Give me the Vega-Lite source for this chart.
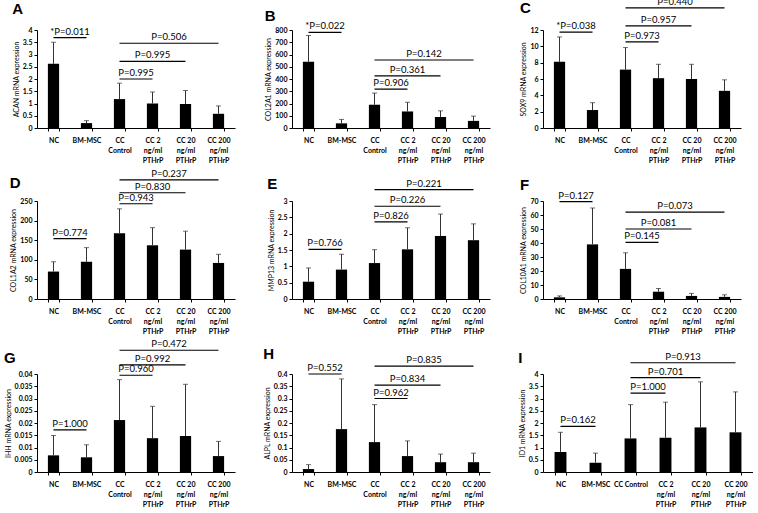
{
  "$schema": "https://vega.github.io/schema/vega-lite/v6.json",
  "background": "white",
  "padding": {"left": 4, "top": -4, "right": 0, "bottom": 0},
  "config": {
    "view": {"stroke": null},
    "font": "Lato",
    "axis": {"grid": false, "domainColor": "#000", "tickColor": "#000", "labelColor": "#000", "titleColor": "#000", "labelFontSize": 7, "labelFontWeight": "bold", "titleFontSize": 7, "titleFontWeight": "normal", "tickSize": 3, "labelPadding": 2, "titlePadding": 3, "labelFont": "Lato", "titleFont": "Lato", "domainWidth": 1},
    "axisX": {"labelPadding": 5, "labelLineHeight": 10, "labelAngle": 0, "labelOverlap": false, "tickBand": "extent"},
    "title": {"fontSize": 15, "fontWeight": "bold", "anchor": "start", "frame": "bounds", "font": "Liberation Sans", "color": "#000"},
    "text": {"font": "Lato", "fontSize": 9.5, "color": "#000"}
  },
  "datasets": {
    "bars": [
      {"panel": "A", "group": "NC", "value": 2.62, "upper": 3.5},
      {"panel": "A", "group": "BM-MSC", "value": 0.2, "upper": 0.3},
      {"panel": "A", "group": "CC Control", "value": 1.18, "upper": 1.83},
      {"panel": "A", "group": "CC 2 ng/ml PTHrP", "value": 1.0, "upper": 1.47},
      {"panel": "A", "group": "CC 20 ng/ml PTHrP", "value": 0.98, "upper": 1.53},
      {"panel": "A", "group": "CC 200 ng/ml PTHrP", "value": 0.58, "upper": 0.9},
      {"panel": "B", "group": "NC", "value": 540, "upper": 755},
      {"panel": "B", "group": "BM-MSC", "value": 38, "upper": 70},
      {"panel": "B", "group": "CC Control", "value": 190, "upper": 285},
      {"panel": "B", "group": "CC 2 ng/ml PTHrP", "value": 135, "upper": 210},
      {"panel": "B", "group": "CC 20 ng/ml PTHrP", "value": 90, "upper": 140},
      {"panel": "B", "group": "CC 200 ng/ml PTHrP", "value": 58, "upper": 97},
      {"panel": "C", "group": "NC", "value": 8.1, "upper": 11.15},
      {"panel": "C", "group": "BM-MSC", "value": 2.2, "upper": 3.1},
      {"panel": "C", "group": "CC Control", "value": 7.15, "upper": 9.85},
      {"panel": "C", "group": "CC 2 ng/ml PTHrP", "value": 6.1, "upper": 7.8},
      {"panel": "C", "group": "CC 20 ng/ml PTHrP", "value": 6.0, "upper": 7.8},
      {"panel": "C", "group": "CC 200 ng/ml PTHrP", "value": 4.55, "upper": 5.9},
      {"panel": "D", "group": "NC", "value": 70, "upper": 95},
      {"panel": "D", "group": "BM-MSC", "value": 95, "upper": 131},
      {"panel": "D", "group": "CC Control", "value": 168, "upper": 230},
      {"panel": "D", "group": "CC 2 ng/ml PTHrP", "value": 137, "upper": 182},
      {"panel": "D", "group": "CC 20 ng/ml PTHrP", "value": 126, "upper": 173},
      {"panel": "D", "group": "CC 200 ng/ml PTHrP", "value": 92, "upper": 114},
      {"panel": "E", "group": "NC", "value": 0.53, "upper": 0.95},
      {"panel": "E", "group": "BM-MSC", "value": 0.9, "upper": 1.37},
      {"panel": "E", "group": "CC Control", "value": 1.1, "upper": 1.51},
      {"panel": "E", "group": "CC 2 ng/ml PTHrP", "value": 1.52, "upper": 2.18},
      {"panel": "E", "group": "CC 20 ng/ml PTHrP", "value": 1.93, "upper": 2.6},
      {"panel": "E", "group": "CC 200 ng/ml PTHrP", "value": 1.8, "upper": 2.3},
      {"panel": "F", "group": "NC", "value": 1.2, "upper": 2.2},
      {"panel": "F", "group": "BM-MSC", "value": 39, "upper": 65},
      {"panel": "F", "group": "CC Control", "value": 21.5, "upper": 33},
      {"panel": "F", "group": "CC 2 ng/ml PTHrP", "value": 5.2, "upper": 7.5},
      {"panel": "F", "group": "CC 20 ng/ml PTHrP", "value": 2.2, "upper": 4.0},
      {"panel": "F", "group": "CC 200 ng/ml PTHrP", "value": 1.5, "upper": 3.0},
      {"panel": "G", "group": "NC", "value": 0.0068, "upper": 0.0149},
      {"panel": "G", "group": "BM-MSC", "value": 0.006, "upper": 0.0111},
      {"panel": "G", "group": "CC Control", "value": 0.0212, "upper": 0.0377},
      {"panel": "G", "group": "CC 2 ng/ml PTHrP", "value": 0.0138, "upper": 0.0268},
      {"panel": "G", "group": "CC 20 ng/ml PTHrP", "value": 0.0147, "upper": 0.0358},
      {"panel": "G", "group": "CC 200 ng/ml PTHrP", "value": 0.0065, "upper": 0.0125},
      {"panel": "H", "group": "NC", "value": 0.012, "upper": 0.03},
      {"panel": "H", "group": "BM-MSC", "value": 0.175, "upper": 0.38},
      {"panel": "H", "group": "CC Control", "value": 0.122, "upper": 0.275},
      {"panel": "H", "group": "CC 2 ng/ml PTHrP", "value": 0.065, "upper": 0.127},
      {"panel": "H", "group": "CC 20 ng/ml PTHrP", "value": 0.04, "upper": 0.073},
      {"panel": "H", "group": "CC 200 ng/ml PTHrP", "value": 0.04, "upper": 0.077},
      {"panel": "I", "group": "NC", "value": 0.82, "upper": 1.62},
      {"panel": "I", "group": "BM-MSC", "value": 0.38, "upper": 0.77},
      {"panel": "I", "group": "CC Control", "value": 1.37, "upper": 2.75},
      {"panel": "I", "group": "CC 2 ng/ml PTHrP", "value": 1.4, "upper": 2.85},
      {"panel": "I", "group": "CC 20 ng/ml PTHrP", "value": 1.82, "upper": 3.68},
      {"panel": "I", "group": "CC 200 ng/ml PTHrP", "value": 1.62, "upper": 3.27}
    ],
    "brackets": [
      {"panel": "A", "id": "A1", "label": "*P=0.011", "y": 3.69, "pos": 0}, {"panel": "A", "id": "A1", "label": "*P=0.011", "y": 3.69, "pos": 1},
      {"panel": "A", "id": "A2", "label": "P=0.506", "y": 3.46, "pos": 2}, {"panel": "A", "id": "A2", "label": "P=0.506", "y": 3.46, "pos": 5},
      {"panel": "A", "id": "A3", "label": "P=0.995", "y": 2.72, "pos": 2}, {"panel": "A", "id": "A3", "label": "P=0.995", "y": 2.72, "pos": 4},
      {"panel": "A", "id": "A4", "label": "P=0.995", "y": 2.0, "pos": 2}, {"panel": "A", "id": "A4", "label": "P=0.995", "y": 2.0, "pos": 3},
      {"panel": "B", "id": "B1", "label": "*P=0.022", "y": 780, "pos": 0}, {"panel": "B", "id": "B1", "label": "*P=0.022", "y": 780, "pos": 1},
      {"panel": "B", "id": "B2", "label": "P=0.142", "y": 555, "pos": 2}, {"panel": "B", "id": "B2", "label": "P=0.142", "y": 555, "pos": 5},
      {"panel": "B", "id": "B3", "label": "P=0.361", "y": 425, "pos": 2}, {"panel": "B", "id": "B3", "label": "P=0.361", "y": 425, "pos": 4},
      {"panel": "B", "id": "B4", "label": "P=0.906", "y": 318, "pos": 2}, {"panel": "B", "id": "B4", "label": "P=0.906", "y": 318, "pos": 3},
      {"panel": "C", "id": "C1", "label": "*P=0.038", "y": 11.75, "pos": 0}, {"panel": "C", "id": "C1", "label": "*P=0.038", "y": 11.75, "pos": 1},
      {"panel": "C", "id": "C2", "label": "P=0.440", "y": 14.7, "pos": 2}, {"panel": "C", "id": "C2", "label": "P=0.440", "y": 14.7, "pos": 5},
      {"panel": "C", "id": "C3", "label": "P=0.957", "y": 12.5, "pos": 2}, {"panel": "C", "id": "C3", "label": "P=0.957", "y": 12.5, "pos": 4},
      {"panel": "C", "id": "C4", "label": "P=0.973", "y": 10.55, "pos": 2}, {"panel": "C", "id": "C4", "label": "P=0.973", "y": 10.55, "pos": 3},
      {"panel": "D", "id": "D1", "label": "P=0.774", "y": 154, "pos": 0}, {"panel": "D", "id": "D1", "label": "P=0.774", "y": 154, "pos": 1},
      {"panel": "D", "id": "D2", "label": "P=0.237", "y": 304, "pos": 2}, {"panel": "D", "id": "D2", "label": "P=0.237", "y": 304, "pos": 5},
      {"panel": "D", "id": "D3", "label": "P=0.830", "y": 271, "pos": 2}, {"panel": "D", "id": "D3", "label": "P=0.830", "y": 271, "pos": 4},
      {"panel": "D", "id": "D4", "label": "P=0.943", "y": 243, "pos": 2}, {"panel": "D", "id": "D4", "label": "P=0.943", "y": 243, "pos": 3},
      {"panel": "E", "id": "E1", "label": "P=0.766", "y": 1.52, "pos": 0}, {"panel": "E", "id": "E1", "label": "P=0.766", "y": 1.52, "pos": 1},
      {"panel": "E", "id": "E2", "label": "P=0.221", "y": 3.35, "pos": 2}, {"panel": "E", "id": "E2", "label": "P=0.221", "y": 3.35, "pos": 5},
      {"panel": "E", "id": "E3", "label": "P=0.226", "y": 2.84, "pos": 2}, {"panel": "E", "id": "E3", "label": "P=0.226", "y": 2.84, "pos": 4},
      {"panel": "E", "id": "E4", "label": "P=0.826", "y": 2.36, "pos": 2}, {"panel": "E", "id": "E4", "label": "P=0.826", "y": 2.36, "pos": 3},
      {"panel": "F", "id": "F1", "label": "P=0.127", "y": 69.5, "pos": 0}, {"panel": "F", "id": "F1", "label": "P=0.127", "y": 69.5, "pos": 1},
      {"panel": "F", "id": "F2", "label": "P=0.073", "y": 62, "pos": 2}, {"panel": "F", "id": "F2", "label": "P=0.073", "y": 62, "pos": 5},
      {"panel": "F", "id": "F3", "label": "P=0.081", "y": 50, "pos": 2}, {"panel": "F", "id": "F3", "label": "P=0.081", "y": 50, "pos": 4},
      {"panel": "F", "id": "F4", "label": "P=0.145", "y": 40.5, "pos": 2}, {"panel": "F", "id": "F4", "label": "P=0.145", "y": 40.5, "pos": 3},
      {"panel": "G", "id": "G1", "label": "P=1.000", "y": 0.0172, "pos": 0}, {"panel": "G", "id": "G1", "label": "P=1.000", "y": 0.0172, "pos": 1},
      {"panel": "G", "id": "G2", "label": "P=0.472", "y": 0.0497, "pos": 2}, {"panel": "G", "id": "G2", "label": "P=0.472", "y": 0.0497, "pos": 5},
      {"panel": "G", "id": "G3", "label": "P=0.992", "y": 0.0437, "pos": 2}, {"panel": "G", "id": "G3", "label": "P=0.992", "y": 0.0437, "pos": 4},
      {"panel": "G", "id": "G4", "label": "P=0.960", "y": 0.0395, "pos": 2}, {"panel": "G", "id": "G4", "label": "P=0.960", "y": 0.0395, "pos": 3},
      {"panel": "H", "id": "H1", "label": "P=0.552", "y": 0.4, "pos": 0}, {"panel": "H", "id": "H1", "label": "P=0.552", "y": 0.4, "pos": 1},
      {"panel": "H", "id": "H2", "label": "P=0.835", "y": 0.432, "pos": 2}, {"panel": "H", "id": "H2", "label": "P=0.835", "y": 0.432, "pos": 5},
      {"panel": "H", "id": "H3", "label": "P=0.834", "y": 0.355, "pos": 2}, {"panel": "H", "id": "H3", "label": "P=0.834", "y": 0.355, "pos": 4},
      {"panel": "H", "id": "H4", "label": "P=0.962", "y": 0.3, "pos": 2}, {"panel": "H", "id": "H4", "label": "P=0.962", "y": 0.3, "pos": 3},
      {"panel": "I", "id": "I1", "label": "P=0.162", "y": 1.86, "pos": 0}, {"panel": "I", "id": "I1", "label": "P=0.162", "y": 1.86, "pos": 1},
      {"panel": "I", "id": "I2", "label": "P=0.913", "y": 4.46, "pos": 2}, {"panel": "I", "id": "I2", "label": "P=0.913", "y": 4.46, "pos": 5},
      {"panel": "I", "id": "I3", "label": "P=0.701", "y": 3.85, "pos": 2}, {"panel": "I", "id": "I3", "label": "P=0.701", "y": 3.85, "pos": 4},
      {"panel": "I", "id": "I4", "label": "P=1.000", "y": 3.22, "pos": 2}, {"panel": "I", "id": "I4", "label": "P=1.000", "y": 3.22, "pos": 3}
    ]
  },
  "columns": 3,
  "spacing": {"row": 5, "column": 28},
  "concat": [
    {
      "title": {"text": "A", "offset": 9},
      "width": 198, "height": 98,
      "resolve": {"scale": {"x": "independent"}},
      "layer": [
        {"data": {"name": "bars"}, "transform": [{"filter": "datum.panel === 'A'"}],
         "encoding": {"x": {"field": "group", "type": "nominal", "title": null, "scale": {"domain": ["NC", "BM-MSC", "CC Control", "CC 2 ng/ml PTHrP", "CC 20 ng/ml PTHrP", "CC 200 ng/ml PTHrP"], "paddingInner": 0.66, "paddingOuter": 0.33}, "axis": {"labelExpr": "indexof(datum.label, 'ng/ml') > 0 ? [replace(datum.label, ' ng/ml PTHrP', ''), 'ng/ml', 'PTHrP'] : datum.label == 'CC Control' ? ['CC', 'Control'] : datum.label"}}},
         "layer": [
           {"mark": {"type": "bar", "color": "#000"}, "encoding": {"y": {"field": "value", "type": "quantitative", "scale": {"domain": [0, 4], "nice": false}, "axis": {"title": "ACAN mRNA expression", "values": [0, 0.5, 1, 1.5, 2, 2.5, 3, 3.5, 4], "format": "~r"}}}},
           {"mark": {"type": "rule", "color": "#333", "strokeWidth": 1}, "encoding": {"y": {"field": "value", "type": "quantitative", "scale": {"domain": [0, 4], "nice": false}, "axis": {"title": "ACAN mRNA expression", "values": [0, 0.5, 1, 1.5, 2, 2.5, 3, 3.5, 4], "format": "~r"}}, "y2": {"field": "upper"}}},
           {"mark": {"type": "tick", "color": "#333", "thickness": 1, "size": 5}, "encoding": {"y": {"field": "upper", "type": "quantitative", "scale": {"domain": [0, 4], "nice": false}, "axis": {"title": "ACAN mRNA expression", "values": [0, 0.5, 1, 1.5, 2, 2.5, 3, 3.5, 4], "format": "~r"}}}}
         ]},
        {"data": {"name": "brackets"}, "transform": [{"filter": "datum.panel === 'A'"}],
         "encoding": {"x": {"field": "pos", "type": "quantitative", "scale": {"domain": [-0.5, 5.5], "nice": false, "zero": false}, "axis": null}, "y": {"field": "y", "type": "quantitative", "scale": {"domain": [0, 4], "nice": false}, "axis": {"title": "ACAN mRNA expression", "values": [0, 0.5, 1, 1.5, 2, 2.5, 3, 3.5, 4], "format": "~r"}}},
         "layer": [
           {"mark": {"type": "line", "color": "#000", "strokeWidth": 1.2}, "encoding": {"detail": {"field": "id"}}},
           {"mark": {"type": "text", "baseline": "bottom", "dy": -1}, "encoding": {"x": {"field": "pos", "aggregate": "mean", "type": "quantitative", "scale": {"domain": [-0.5, 5.5], "nice": false, "zero": false}, "axis": null}, "text": {"field": "label"}, "detail": {"field": "id"}}}
         ]}
      ]
    },
    {
      "title": {"text": "B", "offset": -3},
      "width": 198, "height": 98,
      "resolve": {"scale": {"x": "independent"}},
      "layer": [
        {"data": {"name": "bars"}, "transform": [{"filter": "datum.panel === 'B'"}],
         "encoding": {"x": {"field": "group", "type": "nominal", "title": null, "scale": {"domain": ["NC", "BM-MSC", "CC Control", "CC 2 ng/ml PTHrP", "CC 20 ng/ml PTHrP", "CC 200 ng/ml PTHrP"], "paddingInner": 0.66, "paddingOuter": 0.33}, "axis": {"labelExpr": "indexof(datum.label, 'ng/ml') > 0 ? [replace(datum.label, ' ng/ml PTHrP', ''), 'ng/ml', 'PTHrP'] : datum.label == 'CC Control' ? ['CC', 'Control'] : datum.label"}}},
         "layer": [
           {"mark": {"type": "bar", "color": "#000"}, "encoding": {"y": {"field": "value", "type": "quantitative", "scale": {"domain": [0, 800], "nice": false}, "axis": {"title": "COL2A1 mRNA expression", "values": [0, 100, 200, 300, 400, 500, 600, 700, 800], "format": "~r"}}}},
           {"mark": {"type": "rule", "color": "#333", "strokeWidth": 1}, "encoding": {"y": {"field": "value", "type": "quantitative", "scale": {"domain": [0, 800], "nice": false}, "axis": {"title": "COL2A1 mRNA expression", "values": [0, 100, 200, 300, 400, 500, 600, 700, 800], "format": "~r"}}, "y2": {"field": "upper"}}},
           {"mark": {"type": "tick", "color": "#333", "thickness": 1, "size": 5}, "encoding": {"y": {"field": "upper", "type": "quantitative", "scale": {"domain": [0, 800], "nice": false}, "axis": {"title": "COL2A1 mRNA expression", "values": [0, 100, 200, 300, 400, 500, 600, 700, 800], "format": "~r"}}}}
         ]},
        {"data": {"name": "brackets"}, "transform": [{"filter": "datum.panel === 'B'"}],
         "encoding": {"x": {"field": "pos", "type": "quantitative", "scale": {"domain": [-0.5, 5.5], "nice": false, "zero": false}, "axis": null}, "y": {"field": "y", "type": "quantitative", "scale": {"domain": [0, 800], "nice": false}, "axis": {"title": "COL2A1 mRNA expression", "values": [0, 100, 200, 300, 400, 500, 600, 700, 800], "format": "~r"}}},
         "layer": [
           {"mark": {"type": "line", "color": "#000", "strokeWidth": 1.2}, "encoding": {"detail": {"field": "id"}}},
           {"mark": {"type": "text", "baseline": "bottom", "dy": -1}, "encoding": {"x": {"field": "pos", "aggregate": "mean", "type": "quantitative", "scale": {"domain": [-0.5, 5.5], "nice": false, "zero": false}, "axis": null}, "text": {"field": "label"}, "detail": {"field": "id"}}}
         ]}
      ]
    },
    {
      "title": {"text": "C", "offset": -19},
      "width": 198, "height": 98,
      "resolve": {"scale": {"x": "independent"}},
      "layer": [
        {"data": {"name": "bars"}, "transform": [{"filter": "datum.panel === 'C'"}],
         "encoding": {"x": {"field": "group", "type": "nominal", "title": null, "scale": {"domain": ["NC", "BM-MSC", "CC Control", "CC 2 ng/ml PTHrP", "CC 20 ng/ml PTHrP", "CC 200 ng/ml PTHrP"], "paddingInner": 0.66, "paddingOuter": 0.33}, "axis": {"labelExpr": "indexof(datum.label, 'ng/ml') > 0 ? [replace(datum.label, ' ng/ml PTHrP', ''), 'ng/ml', 'PTHrP'] : datum.label == 'CC Control' ? ['CC', 'Control'] : datum.label"}}},
         "layer": [
           {"mark": {"type": "bar", "color": "#000"}, "encoding": {"y": {"field": "value", "type": "quantitative", "scale": {"domain": [0, 12], "nice": false}, "axis": {"title": "SOX9 mRNA expression", "values": [0, 2, 4, 6, 8, 10, 12], "format": "~r"}}}},
           {"mark": {"type": "rule", "color": "#333", "strokeWidth": 1}, "encoding": {"y": {"field": "value", "type": "quantitative", "scale": {"domain": [0, 12], "nice": false}, "axis": {"title": "SOX9 mRNA expression", "values": [0, 2, 4, 6, 8, 10, 12], "format": "~r"}}, "y2": {"field": "upper"}}},
           {"mark": {"type": "tick", "color": "#333", "thickness": 1, "size": 5}, "encoding": {"y": {"field": "upper", "type": "quantitative", "scale": {"domain": [0, 12], "nice": false}, "axis": {"title": "SOX9 mRNA expression", "values": [0, 2, 4, 6, 8, 10, 12], "format": "~r"}}}}
         ]},
        {"data": {"name": "brackets"}, "transform": [{"filter": "datum.panel === 'C'"}],
         "encoding": {"x": {"field": "pos", "type": "quantitative", "scale": {"domain": [-0.5, 5.5], "nice": false, "zero": false}, "axis": null}, "y": {"field": "y", "type": "quantitative", "scale": {"domain": [0, 12], "nice": false}, "axis": {"title": "SOX9 mRNA expression", "values": [0, 2, 4, 6, 8, 10, 12], "format": "~r"}}},
         "layer": [
           {"mark": {"type": "line", "color": "#000", "strokeWidth": 1.2}, "encoding": {"detail": {"field": "id"}}},
           {"mark": {"type": "text", "baseline": "bottom", "dy": -1}, "encoding": {"x": {"field": "pos", "aggregate": "mean", "type": "quantitative", "scale": {"domain": [-0.5, 5.5], "nice": false, "zero": false}, "axis": null}, "text": {"field": "label"}, "detail": {"field": "id"}}}
         ]}
      ]
    },
    {
      "title": {"text": "D", "offset": -22},
      "width": 198, "height": 98,
      "resolve": {"scale": {"x": "independent"}},
      "layer": [
        {"data": {"name": "bars"}, "transform": [{"filter": "datum.panel === 'D'"}],
         "encoding": {"x": {"field": "group", "type": "nominal", "title": null, "scale": {"domain": ["NC", "BM-MSC", "CC Control", "CC 2 ng/ml PTHrP", "CC 20 ng/ml PTHrP", "CC 200 ng/ml PTHrP"], "paddingInner": 0.66, "paddingOuter": 0.33}, "axis": {"labelExpr": "indexof(datum.label, 'ng/ml') > 0 ? [replace(datum.label, ' ng/ml PTHrP', ''), 'ng/ml', 'PTHrP'] : datum.label == 'CC Control' ? ['CC', 'Control'] : datum.label"}}},
         "layer": [
           {"mark": {"type": "bar", "color": "#000"}, "encoding": {"y": {"field": "value", "type": "quantitative", "scale": {"domain": [0, 250], "nice": false}, "axis": {"title": "COL1A2 mRNA expression", "values": [0, 50, 100, 150, 200, 250], "format": "~r"}}}},
           {"mark": {"type": "rule", "color": "#333", "strokeWidth": 1}, "encoding": {"y": {"field": "value", "type": "quantitative", "scale": {"domain": [0, 250], "nice": false}, "axis": {"title": "COL1A2 mRNA expression", "values": [0, 50, 100, 150, 200, 250], "format": "~r"}}, "y2": {"field": "upper"}}},
           {"mark": {"type": "tick", "color": "#333", "thickness": 1, "size": 5}, "encoding": {"y": {"field": "upper", "type": "quantitative", "scale": {"domain": [0, 250], "nice": false}, "axis": {"title": "COL1A2 mRNA expression", "values": [0, 50, 100, 150, 200, 250], "format": "~r"}}}}
         ]},
        {"data": {"name": "brackets"}, "transform": [{"filter": "datum.panel === 'D'"}],
         "encoding": {"x": {"field": "pos", "type": "quantitative", "scale": {"domain": [-0.5, 5.5], "nice": false, "zero": false}, "axis": null}, "y": {"field": "y", "type": "quantitative", "scale": {"domain": [0, 250], "nice": false}, "axis": {"title": "COL1A2 mRNA expression", "values": [0, 50, 100, 150, 200, 250], "format": "~r"}}},
         "layer": [
           {"mark": {"type": "line", "color": "#000", "strokeWidth": 1.2}, "encoding": {"detail": {"field": "id"}}},
           {"mark": {"type": "text", "baseline": "bottom", "dy": -1}, "encoding": {"x": {"field": "pos", "aggregate": "mean", "type": "quantitative", "scale": {"domain": [-0.5, 5.5], "nice": false, "zero": false}, "axis": null}, "text": {"field": "label"}, "detail": {"field": "id"}}}
         ]}
      ]
    },
    {
      "title": {"text": "E", "offset": -13},
      "width": 198, "height": 98,
      "resolve": {"scale": {"x": "independent"}},
      "layer": [
        {"data": {"name": "bars"}, "transform": [{"filter": "datum.panel === 'E'"}],
         "encoding": {"x": {"field": "group", "type": "nominal", "title": null, "scale": {"domain": ["NC", "BM-MSC", "CC Control", "CC 2 ng/ml PTHrP", "CC 20 ng/ml PTHrP", "CC 200 ng/ml PTHrP"], "paddingInner": 0.66, "paddingOuter": 0.33}, "axis": {"labelExpr": "indexof(datum.label, 'ng/ml') > 0 ? [replace(datum.label, ' ng/ml PTHrP', ''), 'ng/ml', 'PTHrP'] : datum.label == 'CC Control' ? ['CC', 'Control'] : datum.label"}}},
         "layer": [
           {"mark": {"type": "bar", "color": "#000"}, "encoding": {"y": {"field": "value", "type": "quantitative", "scale": {"domain": [0, 3], "nice": false}, "axis": {"title": "MMP13 mRNA expression", "values": [0, 0.5, 1, 1.5, 2, 2.5, 3], "format": "~r"}}}},
           {"mark": {"type": "rule", "color": "#333", "strokeWidth": 1}, "encoding": {"y": {"field": "value", "type": "quantitative", "scale": {"domain": [0, 3], "nice": false}, "axis": {"title": "MMP13 mRNA expression", "values": [0, 0.5, 1, 1.5, 2, 2.5, 3], "format": "~r"}}, "y2": {"field": "upper"}}},
           {"mark": {"type": "tick", "color": "#333", "thickness": 1, "size": 5}, "encoding": {"y": {"field": "upper", "type": "quantitative", "scale": {"domain": [0, 3], "nice": false}, "axis": {"title": "MMP13 mRNA expression", "values": [0, 0.5, 1, 1.5, 2, 2.5, 3], "format": "~r"}}}}
         ]},
        {"data": {"name": "brackets"}, "transform": [{"filter": "datum.panel === 'E'"}],
         "encoding": {"x": {"field": "pos", "type": "quantitative", "scale": {"domain": [-0.5, 5.5], "nice": false, "zero": false}, "axis": null}, "y": {"field": "y", "type": "quantitative", "scale": {"domain": [0, 3], "nice": false}, "axis": {"title": "MMP13 mRNA expression", "values": [0, 0.5, 1, 1.5, 2, 2.5, 3], "format": "~r"}}},
         "layer": [
           {"mark": {"type": "line", "color": "#000", "strokeWidth": 1.2}, "encoding": {"detail": {"field": "id"}}},
           {"mark": {"type": "text", "baseline": "bottom", "dy": -1}, "encoding": {"x": {"field": "pos", "aggregate": "mean", "type": "quantitative", "scale": {"domain": [-0.5, 5.5], "nice": false, "zero": false}, "axis": null}, "text": {"field": "label"}, "detail": {"field": "id"}}}
         ]}
      ]
    },
    {
      "title": {"text": "F", "offset": -2},
      "width": 198, "height": 98,
      "resolve": {"scale": {"x": "independent"}},
      "layer": [
        {"data": {"name": "bars"}, "transform": [{"filter": "datum.panel === 'F'"}],
         "encoding": {"x": {"field": "group", "type": "nominal", "title": null, "scale": {"domain": ["NC", "BM-MSC", "CC Control", "CC 2 ng/ml PTHrP", "CC 20 ng/ml PTHrP", "CC 200 ng/ml PTHrP"], "paddingInner": 0.66, "paddingOuter": 0.33}, "axis": {"labelExpr": "indexof(datum.label, 'ng/ml') > 0 ? [replace(datum.label, ' ng/ml PTHrP', ''), 'ng/ml', 'PTHrP'] : datum.label == 'CC Control' ? ['CC', 'Control'] : datum.label"}}},
         "layer": [
           {"mark": {"type": "bar", "color": "#000"}, "encoding": {"y": {"field": "value", "type": "quantitative", "scale": {"domain": [0, 70], "nice": false}, "axis": {"title": "COL10A1 mRNA expression", "values": [0, 10, 20, 30, 40, 50, 60, 70], "format": "~r"}}}},
           {"mark": {"type": "rule", "color": "#333", "strokeWidth": 1}, "encoding": {"y": {"field": "value", "type": "quantitative", "scale": {"domain": [0, 70], "nice": false}, "axis": {"title": "COL10A1 mRNA expression", "values": [0, 10, 20, 30, 40, 50, 60, 70], "format": "~r"}}, "y2": {"field": "upper"}}},
           {"mark": {"type": "tick", "color": "#333", "thickness": 1, "size": 5}, "encoding": {"y": {"field": "upper", "type": "quantitative", "scale": {"domain": [0, 70], "nice": false}, "axis": {"title": "COL10A1 mRNA expression", "values": [0, 10, 20, 30, 40, 50, 60, 70], "format": "~r"}}}}
         ]},
        {"data": {"name": "brackets"}, "transform": [{"filter": "datum.panel === 'F'"}],
         "encoding": {"x": {"field": "pos", "type": "quantitative", "scale": {"domain": [-0.5, 5.5], "nice": false, "zero": false}, "axis": null}, "y": {"field": "y", "type": "quantitative", "scale": {"domain": [0, 70], "nice": false}, "axis": {"title": "COL10A1 mRNA expression", "values": [0, 10, 20, 30, 40, 50, 60, 70], "format": "~r"}}},
         "layer": [
           {"mark": {"type": "line", "color": "#000", "strokeWidth": 1.2}, "encoding": {"detail": {"field": "id"}}},
           {"mark": {"type": "text", "baseline": "bottom", "dy": -1}, "encoding": {"x": {"field": "pos", "aggregate": "mean", "type": "quantitative", "scale": {"domain": [-0.5, 5.5], "nice": false, "zero": false}, "axis": null}, "text": {"field": "label"}, "detail": {"field": "id"}}}
         ]}
      ]
    },
    {
      "title": {"text": "G", "offset": -27},
      "width": 198, "height": 98,
      "resolve": {"scale": {"x": "independent"}},
      "layer": [
        {"data": {"name": "bars"}, "transform": [{"filter": "datum.panel === 'G'"}],
         "encoding": {"x": {"field": "group", "type": "nominal", "title": null, "scale": {"domain": ["NC", "BM-MSC", "CC Control", "CC 2 ng/ml PTHrP", "CC 20 ng/ml PTHrP", "CC 200 ng/ml PTHrP"], "paddingInner": 0.66, "paddingOuter": 0.33}, "axis": {"labelExpr": "indexof(datum.label, 'ng/ml') > 0 ? [replace(datum.label, ' ng/ml PTHrP', ''), 'ng/ml', 'PTHrP'] : datum.label == 'CC Control' ? ['CC', 'Control'] : datum.label"}}},
         "layer": [
           {"mark": {"type": "bar", "color": "#000"}, "encoding": {"y": {"field": "value", "type": "quantitative", "scale": {"domain": [0, 0.04], "nice": false}, "axis": {"title": "IHH mRNA expression", "values": [0, 0.005, 0.01, 0.015, 0.02, 0.025, 0.03, 0.035, 0.04], "format": "~r"}}}},
           {"mark": {"type": "rule", "color": "#333", "strokeWidth": 1}, "encoding": {"y": {"field": "value", "type": "quantitative", "scale": {"domain": [0, 0.04], "nice": false}, "axis": {"title": "IHH mRNA expression", "values": [0, 0.005, 0.01, 0.015, 0.02, 0.025, 0.03, 0.035, 0.04], "format": "~r"}}, "y2": {"field": "upper"}}},
           {"mark": {"type": "tick", "color": "#333", "thickness": 1, "size": 5}, "encoding": {"y": {"field": "upper", "type": "quantitative", "scale": {"domain": [0, 0.04], "nice": false}, "axis": {"title": "IHH mRNA expression", "values": [0, 0.005, 0.01, 0.015, 0.02, 0.025, 0.03, 0.035, 0.04], "format": "~r"}}}}
         ]},
        {"data": {"name": "brackets"}, "transform": [{"filter": "datum.panel === 'G'"}],
         "encoding": {"x": {"field": "pos", "type": "quantitative", "scale": {"domain": [-0.5, 5.5], "nice": false, "zero": false}, "axis": null}, "y": {"field": "y", "type": "quantitative", "scale": {"domain": [0, 0.04], "nice": false}, "axis": {"title": "IHH mRNA expression", "values": [0, 0.005, 0.01, 0.015, 0.02, 0.025, 0.03, 0.035, 0.04], "format": "~r"}}},
         "layer": [
           {"mark": {"type": "line", "color": "#000", "strokeWidth": 1.2}, "encoding": {"detail": {"field": "id"}}},
           {"mark": {"type": "text", "baseline": "bottom", "dy": -1}, "encoding": {"x": {"field": "pos", "aggregate": "mean", "type": "quantitative", "scale": {"domain": [-0.5, 5.5], "nice": false, "zero": false}, "axis": null}, "text": {"field": "label"}, "detail": {"field": "id"}}}
         ]}
      ]
    },
    {
      "title": {"text": "H", "offset": -7},
      "width": 198, "height": 98,
      "resolve": {"scale": {"x": "independent"}},
      "layer": [
        {"data": {"name": "bars"}, "transform": [{"filter": "datum.panel === 'H'"}],
         "encoding": {"x": {"field": "group", "type": "nominal", "title": null, "scale": {"domain": ["NC", "BM-MSC", "CC Control", "CC 2 ng/ml PTHrP", "CC 20 ng/ml PTHrP", "CC 200 ng/ml PTHrP"], "paddingInner": 0.66, "paddingOuter": 0.33}, "axis": {"labelExpr": "indexof(datum.label, 'ng/ml') > 0 ? [replace(datum.label, ' ng/ml PTHrP', ''), 'ng/ml', 'PTHrP'] : datum.label == 'CC Control' ? ['CC', 'Control'] : datum.label"}}},
         "layer": [
           {"mark": {"type": "bar", "color": "#000"}, "encoding": {"y": {"field": "value", "type": "quantitative", "scale": {"domain": [0, 0.4], "nice": false}, "axis": {"title": "ALPL mRNA expression", "values": [0, 0.05, 0.1, 0.15, 0.2, 0.25, 0.3, 0.35, 0.4], "format": "~r"}}}},
           {"mark": {"type": "rule", "color": "#333", "strokeWidth": 1}, "encoding": {"y": {"field": "value", "type": "quantitative", "scale": {"domain": [0, 0.4], "nice": false}, "axis": {"title": "ALPL mRNA expression", "values": [0, 0.05, 0.1, 0.15, 0.2, 0.25, 0.3, 0.35, 0.4], "format": "~r"}}, "y2": {"field": "upper"}}},
           {"mark": {"type": "tick", "color": "#333", "thickness": 1, "size": 5}, "encoding": {"y": {"field": "upper", "type": "quantitative", "scale": {"domain": [0, 0.4], "nice": false}, "axis": {"title": "ALPL mRNA expression", "values": [0, 0.05, 0.1, 0.15, 0.2, 0.25, 0.3, 0.35, 0.4], "format": "~r"}}}}
         ]},
        {"data": {"name": "brackets"}, "transform": [{"filter": "datum.panel === 'H'"}],
         "encoding": {"x": {"field": "pos", "type": "quantitative", "scale": {"domain": [-0.5, 5.5], "nice": false, "zero": false}, "axis": null}, "y": {"field": "y", "type": "quantitative", "scale": {"domain": [0, 0.4], "nice": false}, "axis": {"title": "ALPL mRNA expression", "values": [0, 0.05, 0.1, 0.15, 0.2, 0.25, 0.3, 0.35, 0.4], "format": "~r"}}},
         "layer": [
           {"mark": {"type": "line", "color": "#000", "strokeWidth": 1.2}, "encoding": {"detail": {"field": "id"}}},
           {"mark": {"type": "text", "baseline": "bottom", "dy": -1}, "encoding": {"x": {"field": "pos", "aggregate": "mean", "type": "quantitative", "scale": {"domain": [-0.5, 5.5], "nice": false, "zero": false}, "axis": null}, "text": {"field": "label"}, "detail": {"field": "id"}}}
         ]}
      ]
    },
    {
      "title": {"text": "I", "offset": -14},
      "width": 210, "height": 98,
      "resolve": {"scale": {"x": "independent"}},
      "layer": [
        {"data": {"name": "bars"}, "transform": [{"filter": "datum.panel === 'I'"}],
         "encoding": {"x": {"field": "group", "type": "nominal", "title": null, "scale": {"domain": ["NC", "BM-MSC", "CC Control", "CC 2 ng/ml PTHrP", "CC 20 ng/ml PTHrP", "CC 200 ng/ml PTHrP"], "paddingInner": 0.66, "paddingOuter": 0.33}, "axis": {"labelExpr": "indexof(datum.label, 'ng/ml') > 0 ? [replace(datum.label, ' ng/ml PTHrP', ''), 'ng/ml', 'PTHrP'] : datum.label"}}},
         "layer": [
           {"mark": {"type": "bar", "color": "#000"}, "encoding": {"y": {"field": "value", "type": "quantitative", "scale": {"domain": [0, 4], "nice": false}, "axis": {"title": "ID1 mRNA expression", "values": [0, 0.5, 1, 1.5, 2, 2.5, 3, 3.5, 4], "format": "~r"}}}},
           {"mark": {"type": "rule", "color": "#333", "strokeWidth": 1}, "encoding": {"y": {"field": "value", "type": "quantitative", "scale": {"domain": [0, 4], "nice": false}, "axis": {"title": "ID1 mRNA expression", "values": [0, 0.5, 1, 1.5, 2, 2.5, 3, 3.5, 4], "format": "~r"}}, "y2": {"field": "upper"}}},
           {"mark": {"type": "tick", "color": "#333", "thickness": 1, "size": 5}, "encoding": {"y": {"field": "upper", "type": "quantitative", "scale": {"domain": [0, 4], "nice": false}, "axis": {"title": "ID1 mRNA expression", "values": [0, 0.5, 1, 1.5, 2, 2.5, 3, 3.5, 4], "format": "~r"}}}}
         ]},
        {"data": {"name": "brackets"}, "transform": [{"filter": "datum.panel === 'I'"}],
         "encoding": {"x": {"field": "pos", "type": "quantitative", "scale": {"domain": [-0.5, 5.5], "nice": false, "zero": false}, "axis": null}, "y": {"field": "y", "type": "quantitative", "scale": {"domain": [0, 4], "nice": false}, "axis": {"title": "ID1 mRNA expression", "values": [0, 0.5, 1, 1.5, 2, 2.5, 3, 3.5, 4], "format": "~r"}}},
         "layer": [
           {"mark": {"type": "line", "color": "#000", "strokeWidth": 1.2}, "encoding": {"detail": {"field": "id"}}},
           {"mark": {"type": "text", "baseline": "bottom", "dy": -1}, "encoding": {"x": {"field": "pos", "aggregate": "mean", "type": "quantitative", "scale": {"domain": [-0.5, 5.5], "nice": false, "zero": false}, "axis": null}, "text": {"field": "label"}, "detail": {"field": "id"}}}
         ]}
      ]
    }
  ]
}
